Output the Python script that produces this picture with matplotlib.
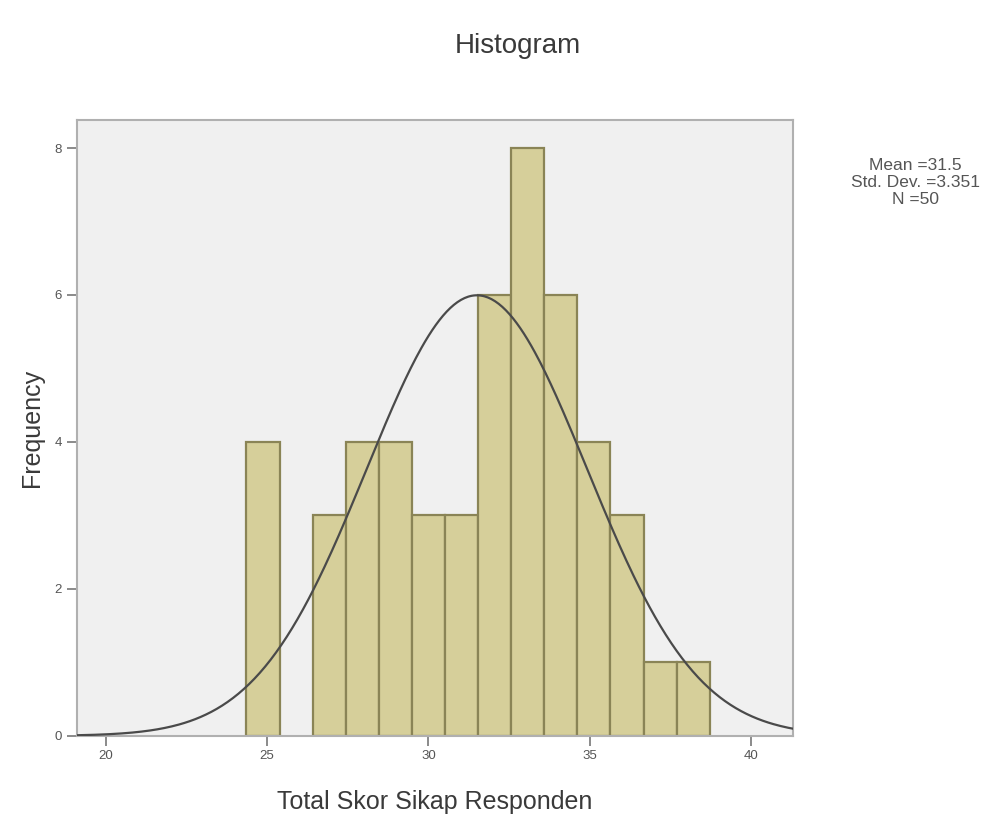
import numpy as np
import matplotlib
matplotlib.use("Agg")
import matplotlib.pyplot as plt

# ── Data ──
counts = [4, 0, 3, 4, 4, 3, 3, 6, 8, 6, 4, 3, 1, 1]
bin_lo, bin_hi = 24.36, 38.71
mean_val = 31.5
sd_val = 3.41
n_obs = 50
legend_lines = ["Mean =31.5", "Std. Dev. =3.351", "N =50"]
x_ticks = [20, 25, 30, 35, 40]
y_ticks = [0, 2, 4, 6, 8]

title = "Histogram"
xlabel = "Total Skor Sikap Responden"
ylabel = "Frequency"

plt.rcParams["font.family"] = ["Liberation Sans", "DejaVu Sans"]

fig = plt.figure(figsize=(10.08, 8.4), dpi=100)
ax = fig.add_axes([0.076, 0.124, 0.711, 0.733])
ax.set_facecolor("#F0F0F0")

edges = np.linspace(bin_lo, bin_hi, len(counts) + 1)
width = edges[1] - edges[0]
for left, c in zip(edges[:-1], counts):
    if c > 0:
        ax.bar(left, c, width=width, align="edge", color="#D6CF9A",
               edgecolor="#8A8456", linewidth=1.6, zorder=2)

# normal curve from the sample stats
xs = np.linspace(19.1, 41.3, 400)
ys = n_obs * width / (sd_val * np.sqrt(2 * np.pi)) * np.exp(-0.5 * ((xs - mean_val) / sd_val) ** 2)
ax.plot(xs, ys, color="#4A4A4A", linewidth=1.6, zorder=3)

ax.set_xlim(19.1, 41.3)
ax.set_ylim(0, 8.38)
ax.set_xticks(x_ticks)
ax.set_yticks(y_ticks)
ax.tick_params(axis="both", direction="out", length=7, width=1.2,
               color="#777777", labelsize=9.5, labelcolor="#555555")
for s in ax.spines.values():
    s.set_color("#B0B0B0")
    s.set_linewidth(1.5)

ax.set_xlabel(xlabel, fontsize=18, color="#3A3A3A", labelpad=20)
ax.set_ylabel(ylabel, fontsize=18, color="#3A3A3A", labelpad=8)
fig.text(0.514, 0.945, title, ha="center", va="center", fontsize=20, color="#3A3A3A")

fig.text(0.908, 0.783, "\n".join(legend_lines), ha="center", va="center",
         fontsize=12.5, color="#555555", linespacing=1.15)

fig.savefig("out.png", dpi=100, facecolor="white")
